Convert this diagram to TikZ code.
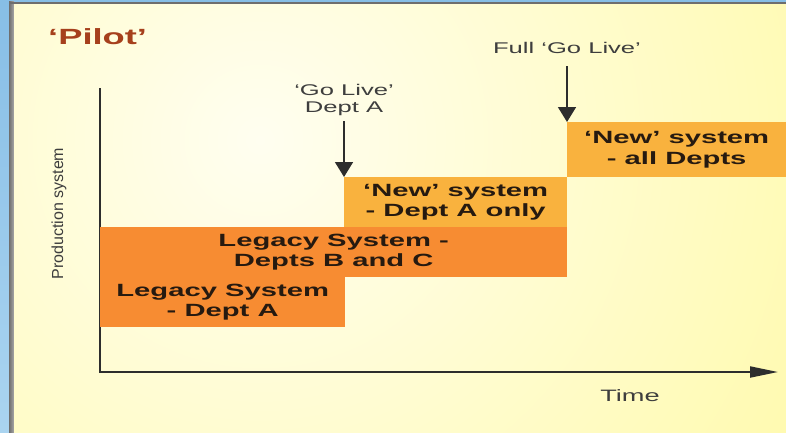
\documentclass[tikz,border=0pt]{standalone}
\usepackage{fontspec}
\setmainfont{Liberation Sans}
% horizontally widened face for the slide lettering
\newfontfamily\widefont[FakeStretch=1.65]{Liberation Sans}
\usetikzlibrary{arrows.meta}

\definecolor{legacy}{RGB}{247,140,50}
\definecolor{newsys}{RGB}{249,178,62}
\definecolor{pilotred}{RGB}{166,64,28}
\definecolor{labelgray}{RGB}{62,62,62}
\definecolor{boxtext}{RGB}{38,26,16}
\definecolor{axisgray}{RGB}{45,45,45}
\definecolor{paper}{RGB}{255,249,160}
\definecolor{paperlight}{RGB}{255,254,240}
\definecolor{framegray}{RGB}{110,110,110}
\definecolor{skyblue}{RGB}{135,190,230}
\definecolor{skylight}{RGB}{170,212,240}

\begin{document}
\begin{tikzpicture}[x=1pt,y=-1pt,
  phase/.style={fill=#1, draw=none, inner sep=0pt, anchor=north west,
    align=center, text=boxtext,
    font=\widefont\bfseries\fontsize{17.7}{20.5}\selectfont},
  eventlabel/.style={inner sep=0pt, anchor=south, align=center, text=labelgray,
    font=\widefont\fontsize{15.5}{17}\selectfont},
  eventarrow/.style={draw=axisgray, line width=1.6pt,
    -{Triangle[length=15pt,width=18pt]}},
  axisline/.style={draw=axisgray, line width=2pt, line join=miter},
]
% page and slide frame
\useasboundingbox (0,0) rectangle (786,432);
\shade[top color=skyblue, bottom color=skylight] (0,0) rectangle (9,432);
\fill[skyblue] (0,0) rectangle (786,1.5);
\shade[left color=framegray, right color=framegray!60] (9,1.5) rectangle (14,432);
\fill[framegray] (9,1.5) rectangle (786,4);

% slide background
\begin{scope}
  \clip (14,4) rectangle (786,432);
  \fill[paper] (14,4) rectangle (786,432);
  \shade[inner color=paperlight, outer color=paper] (260,140) circle (760);
\end{scope}

% title
\node[anchor=base west, inner sep=0pt, text=pilotred,
  font=\widefont\bfseries\fontsize{22}{24}\selectfont] (title) at (48,44) {‘Pilot’};

% axes
\coordinate (ytop) at (100,88);
\coordinate (origin) at (100,372);
\coordinate (xend) at (778,372);
\draw[axisline, -{Triangle[length=28pt,width=11pt]}] (ytop) -- (origin) -- (xend);

\node[rotate=90, anchor=base, inner sep=0pt, text=labelgray,
  font=\fontsize{16}{18}\selectfont] (ylabel) at (63,213.5) {Production system};
\node[anchor=base, inner sep=0pt, text=labelgray,
  font=\widefont\fontsize{16.5}{18}\selectfont] (xlabel) at (630,401) {Time};

% phases
\node[phase=legacy, minimum width=245pt, minimum height=50pt] (legA) at (100,277)
  {Legacy System\\- Dept A};
\node[phase=legacy, minimum width=467pt, minimum height=50pt] (legBC) at (100,227)
  {Legacy System -\\Depts B and C};
\node[phase=newsys, minimum width=223pt, minimum height=50pt] (newA) at (344,177)
  {‘New’ system\\- Dept A only};
\node[phase=newsys, minimum width=219pt, minimum height=55pt] (newAll) at (567,122)
  {‘New’ system\\- all Depts};

% go-live events
\node[eventlabel] (goA) at (344,115.5) {‘Go Live’\\Dept A};
\node[eventlabel] (goFull) at (567,54) {Full ‘Go Live’};
\draw[eventarrow, shorten <=5.5pt] (goA.south) -- (newA.north west);
\draw[eventarrow, shorten <=12pt] (goFull.south) -- (newAll.north west);
\end{tikzpicture}
\end{document}
